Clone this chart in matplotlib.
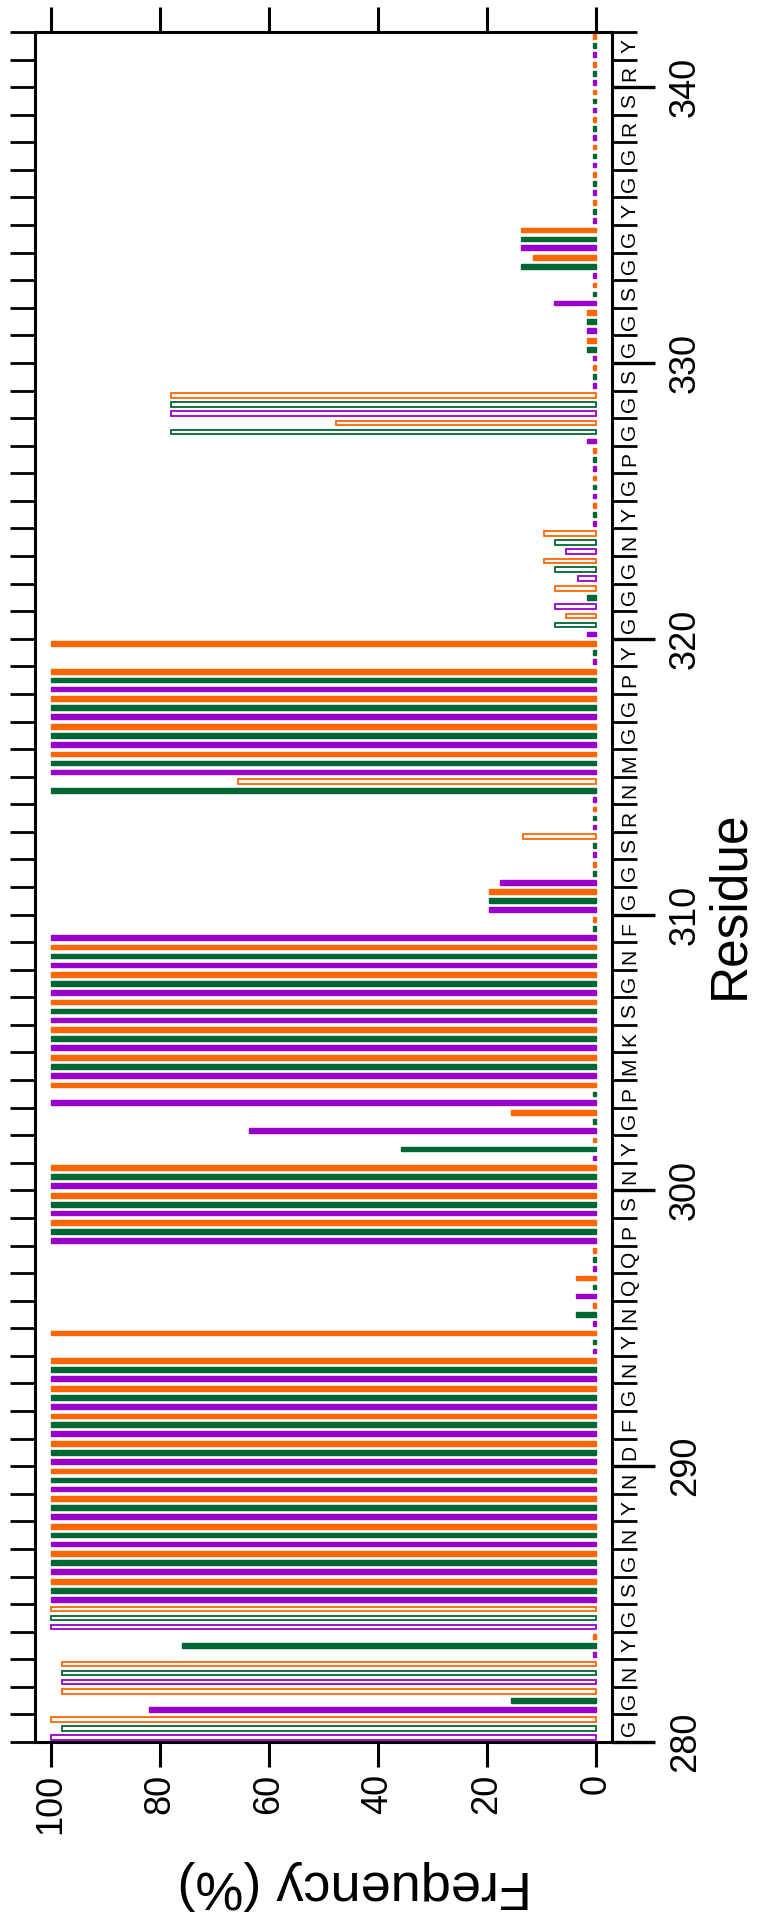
import matplotlib.pyplot as plt
import matplotlib.transforms as mtransforms
from matplotlib.ticker import MultipleLocator
import numpy as np

plt.rcParams['font.family'] = ['Liberation Sans', 'DejaVu Sans']

# residue numbers and one-letter sequence
residues = list(range(280, 342))
sequence = list("GGNYGSGNYNDFGNYNQQPSNYGPMKSGNFGGSRNMGGPYGGGNYGPGGSGGSGGYGGRSRY")

# frequency (%) for the three series, 0.5 = the little stub at zero
purple = [100, 82, 98, 0.5, 100, 100, 100, 100, 100, 100, 100, 100, 100, 100,
          0.5, 0.5, 3.7, 0.5, 100, 100, 100, 0.5, 63.7, 100, 100, 100, 100, 100,
          100, 100, 19.7, 17.6, 0.5, 0.5, 0.5, 100, 100, 100, 100, 0.5, 1.7, 7.5,
          3.4, 5.6, 0.5, 0.5, 0.5, 1.7, 78, 0.5, 0.5, 1.7, 7.8, 0.5, 13.7, 0.5,
          0.5, 0.5, 0.5, 0.5, 0.5, 0.5]
green = [98, 15.6, 98, 76, 100, 100, 100, 100, 100, 100, 100, 100, 100, 100,
         0.5, 3.7, 0.5, 0.5, 100, 100, 100, 35.7, 0.5, 0.5, 100, 100, 100, 100,
         100, 0.5, 19.7, 0.5, 0.5, 0.5, 100, 100, 100, 100, 100, 0.5, 7.5, 1.7,
         7.5, 7.5, 0.5, 0.5, 0.5, 78, 78, 0.5, 1.7, 1.7, 0.5, 13.7, 13.7, 0.5,
         0.5, 0.5, 0.5, 0.5, 0.5, 0.5]
orange = [100, 98, 98, 0.5, 100, 100, 100, 100, 100, 100, 100, 100, 100, 100,
          100, 0.5, 3.7, 0.5, 100, 100, 100, 0.5, 15.6, 100, 100, 100, 100, 100,
          100, 0.5, 19.7, 0.5, 13.5, 0.5, 65.7, 100, 100, 100, 100, 100, 5.6, 7.5,
          9.6, 9.6, 0.5, 0.5, 0.5, 47.7, 78, 0.5, 1.7, 1.7, 0.5, 11.6, 13.7, 0.5,
          0.5, 0.5, 0.5, 0.5, 0.5, 0.5]

# residues where the bar is drawn open (outline only)
purple_open = [280, 282, 284, 321, 322, 323, 328]
green_open = [280, 282, 284, 320, 322, 323, 327, 328]
orange_open = [280, 281, 282, 284, 312, 314, 320, 321, 322, 323, 327, 328]

series = [(purple, purple_open, '#9900cc', -0.325),
          (green, green_open, '#006633', 0.0),
          (orange, orange_open, '#ff6600', 0.325)]

fig = plt.figure(figsize=(7.74, 19.32), dpi=100)
ax = fig.add_axes([34.5 / 774, 1 - 1742 / 1932, 578 / 774, 1710 / 1932])

res = np.array(residues)
bar_h = 0.17
for vals, opens, col, off in series:
    vals = np.array(vals)
    is_open = np.isin(res, opens)
    ypos = res + 0.5 + off
    ax.barh(ypos[~is_open], vals[~is_open], height=bar_h, color=col,
            edgecolor=col, linewidth=1.0)
    ax.barh(ypos[is_open], vals[is_open], height=bar_h, facecolor='white',
            edgecolor=col, linewidth=1.3)

ax.set_xlim(103, -3)
ax.set_ylim(280, 342)

ax.set_xticks([0, 20, 40, 60, 80, 100])
ax.yaxis.set_major_locator(MultipleLocator(10))
ax.yaxis.set_minor_locator(MultipleLocator(1))
ax.yaxis.remove_overlapping_locs = False

ax.tick_params(axis='x', which='major', direction='out', length=18, width=2.2,
               top=True, bottom=True, labeltop=False, labelbottom=True,
               labelsize=26, labelrotation=90, pad=5)
ax.tick_params(axis='y', which='major', direction='out', length=31, width=2.4,
               left=False, right=True, labelleft=False, labelright=True,
               labelsize=26, labelrotation=90, pad=9)
ax.tick_params(axis='y', which='minor', direction='out', length=18, width=2.0,
               left=True, right=True)
for lab in ax.get_yticklabels():
    lab.set_va('center')
    lab.set_ha('left')

for s in ax.spines.values():
    s.set_linewidth(2.2)

# residue letters between the separator ticks
trans = mtransforms.blended_transform_factory(ax.transAxes, ax.transData)
for r, aa in zip(residues, sequence):
    ax.text(1.030, r + 0.5, aa, transform=trans, rotation=90, ha='center',
            va='center', fontsize=15)

fig.text(355 / 774, 1 - 1885 / 1932, 'Frequency (%)', rotation=180,
         ha='center', va='center', fontsize=39)
fig.text(730 / 774, 1 - 905 / 1932, 'Residue', rotation=90,
         ha='center', va='center', fontsize=37)

fig.savefig('out.png', dpi=100)
